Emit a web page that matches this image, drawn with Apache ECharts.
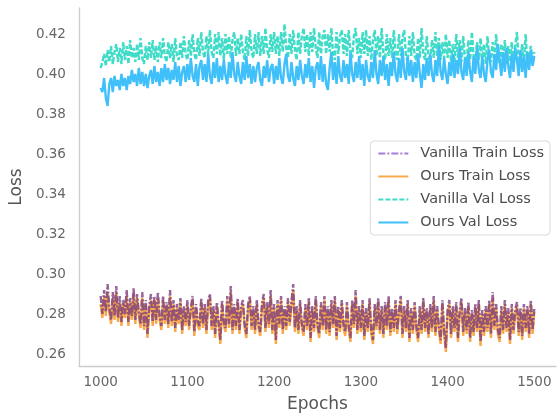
<!DOCTYPE html>
<html>
<head>
<meta charset="utf-8">
<script src="https://cdn.jsdelivr.net/npm/echarts@6/dist/echarts.min.js"></script>
<style>
html,body{margin:0;padding:0;background:#fff;}
#chart{width:559px;height:418px;}
</style>
</head>
<body>
<div id="chart"></div>
<script>
const EPOCH_START = 1000;
const EPOCH_STEP = 2;
const seriesNames = ['Vanilla Train Loss', 'Ours Train Loss', 'Vanilla Val Loss', 'Ours Val Loss'];
const xTickLabels = [1000, 1100, 1200, 1300, 1400, 1500];
const yTickLabels = [0.26, 0.28, 0.30, 0.32, 0.34, 0.36, 0.38, 0.40, 0.42];

const vanillaTrain = [
0.289,0.280,0.292,0.281,0.295,0.283,0.277,0.291,0.279,0.294,
0.278,0.289,0.276,0.287,0.280,0.292,0.276,0.288,0.279,0.293,
0.277,0.290,0.281,0.275,0.291,0.274,0.287,0.270,0.284,0.290,
0.276,0.289,0.277,0.291,0.279,0.274,0.289,0.277,0.286,0.275,
0.292,0.276,0.287,0.273,0.285,0.277,0.288,0.272,0.284,0.276,
0.287,0.274,0.283,0.289,0.271,0.285,0.276,0.274,0.288,0.275,
0.285,0.272,0.287,0.290,0.274,0.284,0.270,0.286,0.276,0.267,
0.287,0.276,0.273,0.289,0.275,0.294,0.272,0.285,0.274,0.288,
0.272,0.284,0.287,0.275,0.270,0.285,0.289,0.274,0.284,0.272,
0.287,0.275,0.271,0.285,0.290,0.273,0.286,0.275,0.292,0.272,
0.285,0.267,0.287,0.275,0.289,0.272,0.284,0.274,0.288,0.276,
0.286,0.295,0.273,0.284,0.272,0.287,0.275,0.271,0.285,0.274,
0.288,0.268,0.284,0.273,0.289,0.275,0.270,0.286,0.274,0.289,
0.272,0.284,0.271,0.287,0.275,0.289,0.269,0.284,0.273,0.287,
0.275,0.271,0.286,0.274,0.268,0.287,0.275,0.292,0.272,0.284,
0.273,0.287,0.269,0.283,0.273,0.288,0.272,0.267,0.285,0.274,
0.288,0.272,0.284,0.270,0.286,0.274,0.289,0.271,0.283,0.273,
0.287,0.272,0.282,0.289,0.270,0.284,0.273,0.287,0.268,0.283,
0.272,0.286,0.274,0.268,0.284,0.272,0.288,0.273,0.283,0.270,
0.285,0.273,0.289,0.271,0.284,0.274,0.267,0.287,0.272,0.263,
0.282,0.287,0.270,0.284,0.273,0.286,0.268,0.282,0.288,0.271,
0.283,0.272,0.286,0.268,0.282,0.271,0.285,0.273,0.287,0.266,
0.282,0.271,0.284,0.273,0.287,0.270,0.291,0.274,0.285,0.272,
0.268,0.284,0.272,0.287,0.273,0.283,0.267,0.285,0.272,0.282,
0.286,0.271,0.283,0.269,0.285,0.273,0.284,0.270,0.287,0.272,
0.283
];

const oursTrain = [
0.285,0.278,0.289,0.279,0.291,0.281,0.275,0.288,0.277,0.291,
0.276,0.286,0.274,0.285,0.278,0.289,0.274,0.286,0.277,0.290,
0.275,0.288,0.279,0.273,0.288,0.272,0.285,0.268,0.282,0.287,
0.274,0.287,0.275,0.288,0.277,0.272,0.287,0.275,0.284,0.273,
0.289,0.274,0.285,0.271,0.283,0.275,0.286,0.270,0.282,0.274,
0.285,0.272,0.281,0.287,0.269,0.283,0.274,0.272,0.286,0.273,
0.283,0.270,0.285,0.288,0.272,0.282,0.268,0.284,0.274,0.265,
0.285,0.274,0.271,0.287,0.273,0.291,0.270,0.283,0.272,0.286,
0.270,0.282,0.285,0.273,0.268,0.283,0.287,0.272,0.282,0.270,
0.285,0.273,0.269,0.283,0.288,0.271,0.284,0.273,0.289,0.270,
0.283,0.265,0.285,0.273,0.287,0.270,0.282,0.272,0.286,0.274,
0.284,0.292,0.271,0.282,0.270,0.285,0.273,0.269,0.283,0.272,
0.286,0.266,0.282,0.271,0.287,0.273,0.268,0.284,0.272,0.287,
0.270,0.282,0.269,0.285,0.273,0.287,0.267,0.282,0.271,0.285,
0.273,0.269,0.284,0.272,0.266,0.285,0.273,0.289,0.270,0.282,
0.271,0.285,0.267,0.281,0.271,0.286,0.270,0.265,0.283,0.272,
0.286,0.270,0.282,0.268,0.284,0.272,0.287,0.269,0.281,0.271,
0.285,0.270,0.280,0.287,0.268,0.282,0.271,0.285,0.266,0.281,
0.270,0.284,0.272,0.266,0.282,0.270,0.286,0.271,0.281,0.268,
0.283,0.271,0.287,0.269,0.282,0.272,0.265,0.285,0.270,0.261,
0.280,0.285,0.268,0.282,0.271,0.284,0.266,0.280,0.286,0.269,
0.281,0.270,0.284,0.266,0.280,0.269,0.283,0.271,0.285,0.264,
0.280,0.269,0.282,0.271,0.285,0.268,0.288,0.272,0.283,0.270,
0.266,0.282,0.270,0.285,0.271,0.281,0.265,0.283,0.270,0.280,
0.284,0.269,0.281,0.267,0.283,0.271,0.282,0.268,0.285,0.270,
0.281
];

const vanillaVal = [
0.403,0.406,0.410,0.404,0.412,0.406,0.414,0.405,0.411,0.415,
0.406,0.413,0.405,0.416,0.407,0.414,0.405,0.417,0.408,0.413,
0.406,0.415,0.407,0.418,0.408,0.405,0.414,0.407,0.416,0.408,
0.417,0.407,0.414,0.406,0.416,0.408,0.418,0.409,0.406,0.416,
0.408,0.415,0.406,0.418,0.409,0.407,0.416,0.408,0.419,0.410,
0.407,0.417,0.409,0.420,0.410,0.407,0.418,0.409,0.421,0.411,
0.408,0.419,0.410,0.422,0.411,0.408,0.420,0.410,0.421,0.409,
0.418,0.407,0.420,0.410,0.419,0.408,0.417,0.421,0.409,0.418,
0.410,0.420,0.411,0.407,0.419,0.409,0.422,0.411,0.408,0.420,
0.410,0.421,0.409,0.419,0.410,0.423,0.412,0.408,0.420,0.411,
0.421,0.410,0.419,0.409,0.421,0.411,0.425,0.413,0.408,0.420,
0.410,0.422,0.412,0.407,0.421,0.410,0.419,0.423,0.411,0.420,
0.409,0.421,0.411,0.423,0.413,0.408,0.421,0.410,0.419,0.422,
0.410,0.420,0.411,0.423,0.410,0.407,0.421,0.410,0.419,0.422,
0.410,0.420,0.409,0.422,0.411,0.408,0.419,0.423,0.410,0.418,
0.408,0.421,0.410,0.422,0.409,0.419,0.407,0.417,0.422,0.409,
0.419,0.408,0.423,0.410,0.407,0.420,0.409,0.418,0.408,0.422,
0.410,0.407,0.420,0.409,0.418,0.422,0.409,0.406,0.419,0.409,
0.421,0.409,0.407,0.418,0.408,0.423,0.410,0.407,0.419,0.409,
0.406,0.417,0.408,0.421,0.409,0.418,0.407,0.416,0.408,0.420,
0.408,0.417,0.406,0.415,0.406,0.420,0.408,0.417,0.406,0.419,
0.408,0.406,0.417,0.407,0.421,0.409,0.406,0.416,0.407,0.418,
0.406,0.415,0.405,0.419,0.408,0.406,0.416,0.407,0.420,0.408,
0.405,0.415,0.406,0.417,0.405,0.414,0.406,0.416,0.405,0.414,
0.421,0.407,0.405,0.415,0.406,0.420,0.405,0.404,0.414,0.406,
0.411
];

const oursVal = [
0.393,0.391,0.398,0.388,0.384,0.395,0.398,0.391,0.399,0.394,
0.397,0.392,0.400,0.394,0.398,0.392,0.399,0.395,0.402,0.396,
0.400,0.394,0.403,0.395,0.401,0.394,0.400,0.393,0.399,0.402,
0.395,0.404,0.396,0.401,0.394,0.403,0.396,0.405,0.397,0.403,
0.395,0.402,0.397,0.406,0.396,0.404,0.394,0.401,0.404,0.396,
0.405,0.397,0.408,0.399,0.396,0.405,0.394,0.404,0.407,0.397,
0.405,0.396,0.410,0.399,0.395,0.406,0.398,0.408,0.396,0.404,
0.397,0.407,0.399,0.395,0.406,0.398,0.411,0.400,0.396,0.406,
0.399,0.395,0.406,0.397,0.409,0.398,0.405,0.395,0.404,0.396,
0.403,0.406,0.397,0.394,0.404,0.398,0.407,0.396,0.403,0.405,
0.395,0.404,0.397,0.408,0.398,0.395,0.405,0.410,0.399,0.396,
0.406,0.398,0.394,0.404,0.397,0.407,0.399,0.395,0.405,0.398,
0.408,0.396,0.404,0.393,0.403,0.406,0.397,0.409,0.396,0.405,
0.395,0.392,0.403,0.411,0.397,0.406,0.395,0.409,0.399,0.396,
0.407,0.398,0.405,0.395,0.411,0.400,0.396,0.406,0.398,0.409,
0.397,0.405,0.394,0.407,0.399,0.396,0.406,0.398,0.412,0.400,
0.395,0.407,0.399,0.409,0.397,0.405,0.394,0.406,0.399,0.411,
0.400,0.396,0.408,0.398,0.413,0.401,0.397,0.409,0.399,0.407,
0.396,0.406,0.398,0.410,0.400,0.393,0.405,0.397,0.408,0.399,
0.410,0.400,0.396,0.407,0.399,0.414,0.401,0.397,0.408,0.400,
0.395,0.406,0.399,0.410,0.398,0.407,0.400,0.413,0.401,0.397,
0.408,0.399,0.411,0.401,0.396,0.409,0.400,0.414,0.402,0.398,
0.409,0.400,0.396,0.407,0.412,0.401,0.398,0.410,0.402,0.415,
0.407,0.399,0.411,0.401,0.413,0.404,0.398,0.410,0.401,0.413,
0.407,0.399,0.412,0.401,0.409,0.398,0.411,0.402,0.412,0.404,
0.409
];

function pairs(values) {
  return values.map((v, i) => [EPOCH_START + i * EPOCH_STEP, v]);
}

const FONT = 'DejaVu Sans';
const chart = echarts.init(document.getElementById('chart'), null, {renderer: 'canvas'});
chart.setOption({
  animation: false,
  backgroundColor: '#ffffff',
  grid: {left: 78, right: 2, top: 8, bottom: 52, containLabel: false},
  legend: {
    orient: 'vertical',
    right: 9,
    top: 141,
    itemWidth: 30,
    itemHeight: 14,
    itemGap: 8,
    padding: [5, 6, 5, 7],
    borderColor: '#d9d9d9',
    borderWidth: 1,
    borderRadius: 4,
    backgroundColor: 'rgba(255,255,255,0.85)',
    itemStyle: {opacity: 0, borderWidth: 0},
    textStyle: {fontFamily: FONT, fontSize: 14.5, color: '#4d4d4d', padding: [0, 0, 0, 7]},
    data: [
      {name: seriesNames[0], lineStyle: {color: '#a67fd8', opacity: 1, width: 2}},
      {name: seriesNames[1], lineStyle: {width: 2}},
      {name: seriesNames[2], lineStyle: {width: 2}},
      {name: seriesNames[3], lineStyle: {width: 2}}
    ]
  },
  xAxis: {
    type: 'value',
    min: 975, max: 1525, interval: 25,
    name: 'Epochs', nameLocation: 'middle', nameGap: 30,
    nameTextStyle: {fontFamily: FONT, fontSize: 17, color: '#555'},
    axisLine: {show: true, lineStyle: {color: '#cccccc', width: 1.3}},
    axisTick: {show: false},
    splitLine: {show: false},
    axisLabel: {
      fontFamily: FONT, fontSize: 13.5, color: '#666', margin: 9,
      formatter: v => xTickLabels.indexOf(Math.round(v)) >= 0 ? String(Math.round(v)) : ''
    }
  },
  yAxis: {
    type: 'value',
    min: 0.254, max: 0.433, interval: 0.001,
    name: 'Loss', nameLocation: 'middle', nameGap: 52,
    nameTextStyle: {fontFamily: FONT, fontSize: 17, color: '#555'},
    axisLine: {show: true, lineStyle: {color: '#cccccc', width: 1.3}},
    axisTick: {show: false},
    splitLine: {show: false},
    axisLabel: {
      fontFamily: FONT, fontSize: 13.5, color: '#666', margin: 13,
      formatter: v => {
        const k = yTickLabels.findIndex(t => Math.abs(t - v) < 1e-6);
        return k >= 0 ? yTickLabels[k].toFixed(2) : '';
      }
    }
  },
  series: [
    {name: seriesNames[0], type: 'line', data: pairs(vanillaTrain), symbol: 'none', z: 4,
     color: '#a67fd8',
     lineStyle: {width: 2.4, color: '#7d3f7e', opacity: 0.8, type: [7, 2, 2, 2]}},
    {name: seriesNames[1], type: 'line', data: pairs(oursTrain), symbol: 'none', z: 3,
     color: '#f9a94b',
     lineStyle: {width: 2.4, color: '#f9a94b', opacity: 1}},
    {name: seriesNames[2], type: 'line', data: pairs(vanillaVal), symbol: 'none', z: 2,
     color: '#40dcc8',
     lineStyle: {width: 2.4, color: '#40dcc8', type: [5, 2]}},
    {name: seriesNames[3], type: 'line', data: pairs(oursVal), symbol: 'none', z: 5,
     color: '#3fc0fa',
     lineStyle: {width: 2.4, color: '#3fc0fa'}}
  ]
});
</script>
</body>
</html>
